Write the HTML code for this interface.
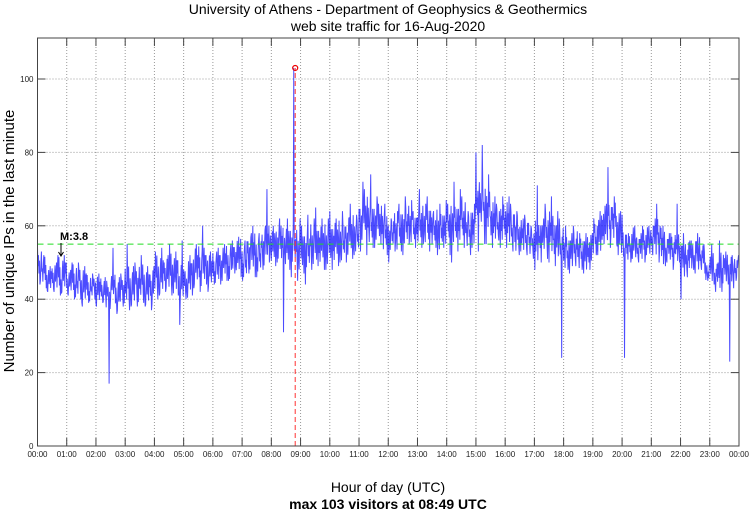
<!DOCTYPE html>
<html><head><meta charset="utf-8"><style>
body{margin:0;background:#fff;}
svg{display:block;font-family:"Liberation Sans",sans-serif;}
</style></head><body>
<svg id="chart" width="750" height="511" viewBox="0 0 750 511">
<text x="388" y="14" text-anchor="middle" font-size="14" fill="#000">University of Athens - Department of Geophysics &amp; Geothermics</text>
<text x="388" y="31" text-anchor="middle" font-size="14" fill="#000">web site traffic for 16-Aug-2020</text>
<g id="grid"></g>
<g id="series"></g>
<g id="axes"></g>
<text x="388" y="492" text-anchor="middle" font-size="14">Hour of day (UTC)</text>
<text x="388" y="509" text-anchor="middle" font-size="14" font-weight="bold">max 103 visitors at 08:49 UTC</text>
<text transform="translate(14,241) rotate(-90)" text-anchor="middle" font-size="15">Number of unique IPs in the last minute</text>
</svg>
<script>
const yTicks=[0,20,40,60,80,100];
const hourLabels=["00:00","01:00","02:00","03:00","04:00","05:00","06:00","07:00","08:00","09:00","10:00","11:00","12:00","13:00","14:00","15:00","16:00","17:00","18:00","19:00","20:00","21:00","22:00","23:00","00:00"];
const binLo=[44,43,42,42,41,42, 41,40,40,38,39,40, 38,39,17,40,36,38, 37,38,38,39,38,37, 40,41,42,41,41,33, 40,41,43,42,44,42,
44,44,45,45,47,46, 45,47,46,46,48,50, 49,50,31,48,46,45, 47,44,48,49,48,48, 48,49,50,50,51,52, 53,52,54,54,55,52,
50,53,53,52,55,54, 54,55,53,54,52,54, 52,50,53,54,52,54, 53,55,55,54,56,54, 54,53,52,53,52,51, 48,50,51,50,49,24,
48,47,49,48,47,48, 52,52,55,54,55,52, 24,50,51,50,50,52, 52,50,49,50,48,50, 40,46,48,47,48,45, 44,42,42,44,23,45];
const binHi=[54,52,49,50,52,52, 48,50,50,49,47,47, 47,46,45,54,46,47, 55,49,50,52,49,49, 53,54,52,55,53,56, 48,52,55,60,54,53,
53,54,55,55,56,57, 56,58,60,58,60,70, 60,62,60,62,103,62, 60,63,62,65,62,62, 64,62,64,62,66,63, 72,70,74,68,66,66,
62,64,66,68,67,64, 70,66,68,64,66,67, 66,72,70,68,64,66, 80,82,74,68,66,68, 68,66,64,62,63,60, 71,62,66,68,64,62,
60,58,60,58,58,58, 62,64,66,76,68,64, 63,58,60,58,60,60, 62,66,60,58,58,66, 58,56,56,58,55,50, 55,50,56,53,52,52];
const meanLevel=55, maxValue=103, maxHour=8+49/60;
const NS="http://www.w3.org/2000/svg";
const X0=37.5,X1=739,Y0=446,YT=38;
const xs=h=>X0+(X1-X0)*h/24;
const ys=v=>Y0-v*3.67;
function mk(tag,attrs,parent){const e=document.createElementNS(NS,tag);for(const k in attrs)e.setAttribute(k,attrs[k]);parent.appendChild(e);return e;}
const grid=document.getElementById('grid'),axes=document.getElementById('axes'),series=document.getElementById('series');
for(let i=1;i<24;i++){const l=mk('line',{x1:xs(i),x2:xs(i),y1:YT,y2:Y0,stroke:'#999','stroke-dasharray':'1,2','stroke-width':1},grid);

}
yTicks.forEach(v=>{if(v===0)return;const l=mk('line',{x1:X0,x2:X1,y1:ys(v),y2:ys(v),stroke:'#999','stroke-dasharray':'1,2','stroke-width':1},grid);

});
const jit=[0.5,0.8,0.3,0.65,0.1,0.55,0.9,0.35,0.6,0.2,0.75,0.45,0.95,0.25,0.7,0.4,0.05,0.6,0.85,0.3,0.5,0.15,0.8];
const mids=binLo.map((l,i)=>(l+binHi[i])/2);
let d='',n=0;
for(let b=0;b<binLo.length;b++){const lo=binLo[b],hi=binHi[b];
const nb=[mids[Math.max(0,b-1)],mids[b],mids[Math.min(mids.length-1,b+1)]].sort((a,c)=>a-c);
const c=nb[1];const cl=Math.max(lo,c-6),ch=Math.min(hi,c+6);
const ph=(b*3)%10,pl=(ph+5)%10;
for(let k=0;k<10;k++){const h=(b*10+k)/60;let v;
if(k===ph)v=hi;else if(k===pl)v=lo;else v=cl+jit[(n++)%jit.length]*(ch-cl);
d+=(d?'L':'M')+xs(h).toFixed(2)+','+ys(v).toFixed(2);}}
const p=mk('path',{d:d,fill:'none',stroke:'#0000ff','stroke-width':1,'stroke-opacity':0.7},series);


const ml=mk('line',{x1:X0,x2:X1,y1:ys(meanLevel),y2:ys(meanLevel),stroke:'#22dd22','stroke-dasharray':'6,4','stroke-width':1},series);


const mx=mk('line',{x1:xs(maxHour),x2:xs(maxHour),y1:Y0,y2:ys(maxValue),stroke:'#ff3333','stroke-dasharray':'5,3','stroke-width':1},series);


const mc=mk('circle',{cx:xs(maxHour),cy:ys(maxValue),r:2.5,fill:'none',stroke:'#ee0000','stroke-width':1.2},series);


const mt=mk('text',{x:60,y:240,'font-size':11,'font-weight':'bold'},series);mt.textContent='M:3.8';


const ma=mk('path',{d:'M61,243L61,256M58.5,252L61,256L63.5,252',fill:'none',stroke:'#000','stroke-width':1},series);


const fr=mk('rect',{x:X0,y:YT,width:X1-X0,height:Y0-YT,fill:'none',stroke:'#444','stroke-width':1},axes);


yTicks.forEach(v=>{
const t=mk('text',{x:X0-4,y:ys(v)+3,'text-anchor':'end','font-size':8,fill:'#222'},axes);t.textContent=v;


mk('line',{x1:X0,x2:X0+8,y1:ys(v),y2:ys(v),stroke:'#444'},axes);
mk('line',{x1:X1-8,x2:X1,y1:ys(v),y2:ys(v),stroke:'#444'},axes);});
hourLabels.forEach((s,i)=>{
const t=mk('text',{x:xs(i),y:457,'text-anchor':'middle','font-size':8,fill:'#222'},axes);t.textContent=s;


mk('line',{x1:xs(i),x2:xs(i),y1:Y0,y2:Y0-8,stroke:'#444'},axes);
mk('line',{x1:xs(i),x2:xs(i),y1:YT,y2:YT+8,stroke:'#444'},axes);});
</script>
</body></html>
